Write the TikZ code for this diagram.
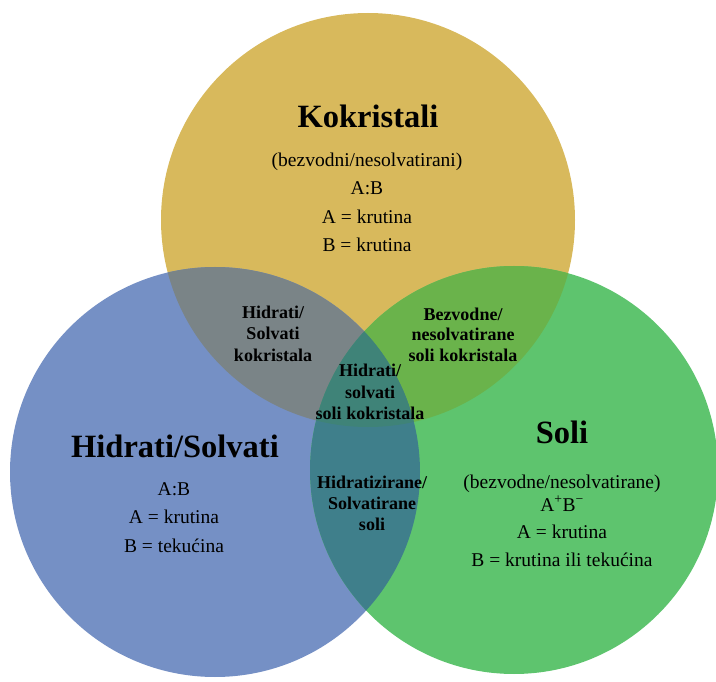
\documentclass[tikz,border=0pt]{standalone}
\usepackage{fontspec}
\setmainfont{Liberation Serif}

\definecolor{kozlato}{HTML}{D8B95C}
\definecolor{hiplava}{HTML}{7590C5}
\definecolor{sozelena}{HTML}{5EC46E}
\definecolor{kohi}{HTML}{7A8487}
\definecolor{koso}{HTML}{6AB34B}
\definecolor{hiso}{HTML}{3F7F8B}
\definecolor{sve}{HTML}{3F8378}

\begin{document}
\begin{tikzpicture}[x=1pt, y=-1pt]
			\tikzstyle{title}   = [font=\fontsize{32.5}{32.5}\selectfont\bfseries, anchor=base, inner sep=0pt]
			\tikzstyle{body}    = [font=\fontsize{19.5}{19.5}\selectfont, anchor=base, inner sep=0pt]
			\tikzstyle{overlap} = [font=\fontsize{18}{18}\selectfont\bfseries, anchor=base, inner sep=0pt]

			\useasboundingbox (0, 0) rectangle (716, 682);

			% krugovi
			\def\kok{(368, 220) circle (207)}
			\def\hid{(215, 472) circle (205)}
			\def\sol{(514, 470) circle (204)}

			\fill[kozlato] \kok;
			\fill[hiplava] \hid;
			\fill[sozelena] \sol;
			\begin{scope}
				\clip \kok;
				\fill[kohi] \hid;
				\fill[koso] \sol;
			\end{scope}
			\begin{scope}
				\clip \hid;
				\fill[hiso] \sol;
				\clip \kok;
				\fill[sve] \sol;
			\end{scope}

			% Kokristali
			\node[title] (kok) at (368, 128) {Kokristali};
			\node[body] (kok1) at (367, 167) {(bezvodni/nesolvatirani)};
			\node[body] (kok2) at (367, 195) {A:B};
			\node[body] (kok3) at (367, 224) {A = krutina};
			\node[body] (kok4) at (367, 252) {B = krutina};

			% Hidrati/Solvati
			\node[title] (hid) at (175, 457) {Hidrati/Solvati};
			\node[body] (hid1) at (174, 495) {A:B};
			\node[body] (hid2) at (174, 523) {A = krutina};
			\node[body] (hid3) at (174, 552) {B = teku\'cina};

			% Soli
			\node[title] (sol) at (562, 443) {Soli};
			\node[body] (sol1) at (562, 488) {(bezvodne/nesolvatirane)};
			\node[body] (sol2) at (562, 511) {A\textsuperscript{+}B\textsuperscript{\textminus}};
			\node[body] (sol3) at (562, 538) {A = krutina};
			\node[body] (sol4) at (562, 566) {B = krutina ili teku\'cina};

			% presjeci
			\node[overlap] (kohi1) at (273, 319) {Hidrati/};
			\node[overlap] (kohi2) at (273, 340) {Solvati};
			\node[overlap] (kohi3) at (273, 361) {kokristala};

			\node[overlap] (koso1) at (463, 320) {Bezvodne/};
			\node[overlap] (koso2) at (463, 341) {nesolvatirane};
			\node[overlap] (koso3) at (463, 362) {soli kokristala};

			\node[overlap] (sve1) at (370, 377) {Hidrati/};
			\node[overlap] (sve2) at (370, 398) {solvati};
			\node[overlap] (sve3) at (370, 419) {soli kokristala};

			\node[overlap] (hiso1) at (372, 488) {Hidratizirane/};
			\node[overlap] (hiso2) at (372, 509) {Solvatirane};
			\node[overlap] (hiso3) at (372, 530) {soli};
\end{tikzpicture}
\end{document}
